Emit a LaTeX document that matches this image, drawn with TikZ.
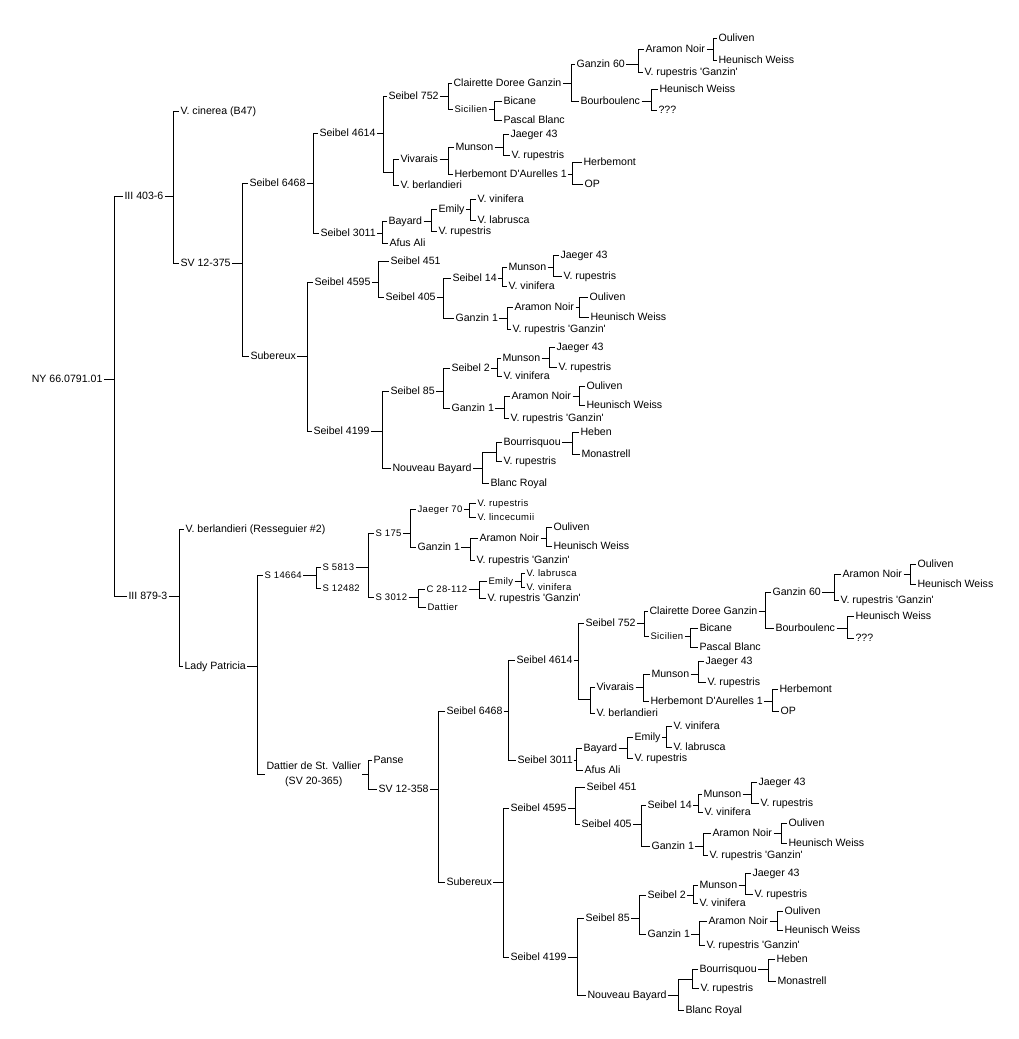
\documentclass[tikz,border=0pt]{standalone}
\usepackage{fontspec}
\setmainfont{Liberation Sans}
\newfontfamily\smallfam{Liberation Sans}[LetterSpace=4]
\newcommand\mf{\fontsize{10.6pt}{15pt}\selectfont}
\newcommand\smf{\smallfam\fontsize{9.5pt}{11pt}\selectfont}
\newcommand\q{\textquotesingle}
\newcommand\pedi[4]{%
  \coordinate (bb) at (#2,0);
  \draw (#3.west) -- (#3.west -| bb) -- (#4.west -| bb) -- (#4.west);
  \draw (#1.east) -- (#1.east -| bb);
}
\tikzset{
  lbl/.style={font=\mf, anchor=west, inner sep=1pt, text height=7.6pt, text depth=0pt},
  sml/.style={font=\smf, anchor=west, inner sep=1pt, text height=6.8pt, text depth=0pt},
  junc/.style={inner sep=0pt, minimum size=0pt},
  twol/.style={font=\mf, anchor=west, inner sep=1pt, align=center},
}
\begin{document}
\begin{tikzpicture}[x=1pt, y=-1pt, line width=1pt, line join=miter]
\fill[white] (0,0) rectangle (1019,1039);
\useasboundingbox (0,0) rectangle (1019,1039);
% ---------- root ----------
\node[lbl, anchor=east] (root) at (104,379) {NY 66.0791.01};
\node[lbl] (A) at (123,196) {III 403-6};
\node[lbl] (B) at (127,596) {III 879-3};
\pedi{root}{114}{A}{B}
% ---------- upper half ----------
\node[lbl] (A1) at (179,111) {V. cinerea (B47)};
\node[lbl] (A2) at (179,263) {SV 12-375};
\pedi{A}{173}{A1}{A2}
\node[lbl] (A21) at (248,183) {Seibel 6468};
\node[lbl] (A22) at (249,356) {Subereux};
\pedi{A2}{242}{A21}{A22}
\node[lbl] (a1) at (318,133) {Seibel 4614};
\node[lbl] (a2) at (319,233) {Seibel 3011};
\pedi{A21}{313}{a1}{a2}
\node[lbl] (a11) at (387,96) {Seibel 752};
\node[junc] (u1) at (393,172) {};
\pedi{a1}{383}{a11}{u1}
\node[lbl] (a12) at (399,159) {Vivarais};
\node[lbl] (a13) at (399,185) {V. berlandieri};
\pedi{u1}{393}{a12}{a13}
\node[lbl] (a111) at (452,83) {Clairette Doree Ganzin};
\node[sml] (a112) at (453,109) {Sicilien};
\pedi{a11}{448}{a111}{a112}
\node[lbl] (a1111) at (575,64) {Ganzin 60};
\node[lbl] (a1112) at (579,101) {Bourboulenc};
\pedi{a111}{571}{a1111}{a1112}
\node[lbl] (b1) at (644,49) {Aramon Noir};
\node[lbl] (b2) at (643,72) {V. rupestris \q Ganzin\q};
\pedi{a1111}{638}{b1}{b2}
\node[lbl] (b11) at (717,38) {Ouliven};
\node[lbl] (b12) at (717,60) {Heunisch Weiss};
\pedi{b1}{713}{b11}{b12}
\node[lbl] (b3) at (658,89) {Heunisch Weiss};
\node[lbl] (b4) at (657,110) {???};
\pedi{a1112}{651}{b3}{b4}
\node[lbl] (b5) at (502,101) {Bicane};
\node[lbl] (b6) at (502,120) {Pascal Blanc};
\pedi{a112}{494}{b5}{b6}
\node[lbl] (c1) at (454,147) {Munson};
\node[lbl] (c2) at (453,174) {Herbemont D\q Aurelles 1};
\pedi{a12}{448}{c1}{c2}
\node[lbl] (c3) at (509,134) {Jaeger 43};
\node[lbl] (c4) at (510,155) {V. rupestris};
\pedi{c1}{503}{c3}{c4}
\node[lbl] (c5) at (582,162) {Herbemont};
\node[lbl] (c6) at (583,184) {OP};
\pedi{c2}{572}{c5}{c6}
\node[lbl] (d1) at (387,221) {Bayard};
\node[lbl] (d2) at (388,243) {Afus Ali};
\pedi{a2}{382}{d1}{d2}
\node[lbl] (d3) at (437,209) {Emily};
\node[lbl] (d4) at (437,231) {V. rupestris};
\pedi{d1}{431}{d3}{d4}
\node[lbl] (d5) at (476,199) {V. vinifera};
\node[lbl] (d6) at (476,220) {V. labrusca};
\pedi{d3}{470}{d5}{d6}
\node[lbl] (e1) at (313,282) {Seibel 4595};
\node[lbl] (e2) at (312,431) {Seibel 4199};
\pedi{A22}{307}{e1}{e2}
\node[lbl] (e3) at (389,261) {Seibel 451};
\node[lbl] (e4) at (384,297) {Seibel 405};
\pedi{e1}{378}{e3}{e4}
\node[lbl] (e5) at (451,278) {Seibel 14};
\node[lbl] (e6) at (454,318) {Ganzin 1};
\pedi{e4}{443}{e5}{e6}
\node[lbl] (e7) at (507,267) {Munson};
\node[lbl] (e8) at (507,286) {V. vinifera};
\pedi{e5}{502}{e7}{e8}
\node[lbl] (e9) at (559,255) {Jaeger 43};
\node[lbl] (e10) at (562,276) {V. rupestris};
\pedi{e7}{553}{e9}{e10}
\node[lbl] (e11) at (513,307) {Aramon Noir};
\node[lbl] (e12) at (511,329) {V. rupestris \q Ganzin\q};
\pedi{e6}{507}{e11}{e12}
\node[lbl] (e13) at (588,297) {Ouliven};
\node[lbl] (e14) at (589,317) {Heunisch Weiss};
\pedi{e11}{579}{e13}{e14}
\node[lbl] (f1) at (389,391) {Seibel 85};
\node[lbl] (f2) at (391,468) {Nouveau Bayard};
\pedi{e2}{382}{f1}{f2}
\node[lbl] (f3) at (450,368) {Seibel 2};
\node[lbl] (f4) at (450,408) {Ganzin 1};
\pedi{f1}{443}{f3}{f4}
\node[lbl] (f5) at (501,358) {Munson};
\node[lbl] (f6) at (502,376) {V. vinifera};
\pedi{f3}{497}{f5}{f6}
\node[lbl] (f7) at (555,347) {Jaeger 43};
\node[lbl] (f8) at (557,367) {V. rupestris};
\pedi{f5}{549}{f7}{f8}
\node[lbl] (f9) at (510,396) {Aramon Noir};
\node[lbl] (f10) at (509,418) {V. rupestris \q Ganzin\q};
\pedi{f4}{504}{f9}{f10}
\node[lbl] (f11) at (585,386) {Ouliven};
\node[lbl] (f12) at (585,405) {Heunisch Weiss};
\pedi{f9}{579}{f11}{f12}
\node[junc] (u2) at (496,452) {};
\node[lbl] (f13) at (489,483) {Blanc Royal};
\pedi{f2}{482}{u2}{f13}
\node[lbl] (f14) at (502,442) {Bourrisquou};
\node[lbl] (f15) at (502,461) {V. rupestris};
\pedi{u2}{496}{f14}{f15}
\node[lbl] (f16) at (579,432) {Heben};
\node[lbl] (f17) at (580,454) {Monastrell};
\pedi{f14}{572}{f16}{f17}
% ---------- lower half ----------
\node[lbl] (B1) at (184,529) {V. berlandieri (Resseguier \#2)};
\node[lbl] (B2) at (183,666) {Lady Patricia};
\pedi{B}{179}{B1}{B2}
\node[sml] (g1) at (263,575) {S 14664};
\node[twol] (g2) at (265,774) {Dattier de St. Vallier\\(SV 20-365)};
\pedi{B2}{257}{g1}{g2}
\node[sml] (g3) at (321,567) {S 5813};
\node[sml] (g4) at (321,588) {S 12482};
\pedi{g1}{316}{g3}{g4}
\node[sml] (g5) at (374,533) {S 175};
\node[sml] (g6) at (374,597) {S 3012};
\pedi{g3}{368}{g5}{g6}
\node[sml] (g7) at (416,509) {Jaeger 70};
\node[lbl] (g8) at (416,547) {Ganzin 1};
\pedi{g5}{410}{g7}{g8}
\node[sml] (g9) at (476,503) {V. rupestris};
\node[sml] (g10) at (476,517) {V. lincecumii};
\pedi{g7}{469}{g9}{g10}
\node[lbl] (g11) at (478,538) {Aramon Noir};
\node[lbl] (g12) at (475,560) {V. rupestris \q Ganzin\q};
\pedi{g8}{470}{g11}{g12}
\node[lbl] (g13) at (552,527) {Ouliven};
\node[lbl] (g14) at (552,546) {Heunisch Weiss};
\pedi{g11}{546}{g13}{g14}
\node[sml] (g15) at (425,589) {C 28-112};
\node[sml] (g16) at (426,607) {Dattier};
\pedi{g6}{418}{g15}{g16}
\node[sml] (g17) at (487,581) {Emily};
\node[lbl] (g18) at (486,598) {V. rupestris \q Ganzin\q};
\pedi{g15}{479}{g17}{g18}
\node[sml] (g19) at (525,573) {V. labrusca};
\node[sml] (g20) at (525,587) {V. vinifera};
\pedi{g17}{521}{g19}{g20}
\node[lbl] (h1) at (372,760) {Panse};
\node[lbl] (h2) at (377,789) {SV 12-358};
\pedi{g2}{368}{h1}{h2}
\node[lbl] (h3) at (445,711) {Seibel 6468};
\node[lbl] (h4) at (445,882) {Subereux};
\pedi{h2}{438}{h3}{h4}
\node[lbl] (h5) at (515,660) {Seibel 4614};
\node[lbl] (h6) at (516,760) {Seibel 3011};
\pedi{h3}{508}{h5}{h6}
\node[lbl] (h7) at (584,623) {Seibel 752};
\node[junc] (u3) at (590,699) {};
\pedi{h5}{578}{h7}{u3}
\node[lbl] (h8) at (595,687) {Vivarais};
\node[lbl] (h9) at (595,713) {V. berlandieri};
\pedi{u3}{590}{h8}{h9}
\node[lbl] (h10) at (648,611) {Clairette Doree Ganzin};
\node[sml] (h11) at (649,636) {Sicilien};
\pedi{h7}{644}{h10}{h11}
\node[lbl] (h12) at (771,592) {Ganzin 60};
\node[lbl] (h13) at (774,628) {Bourboulenc};
\pedi{h10}{765}{h12}{h13}
\node[lbl] (h14) at (841,574) {Aramon Noir};
\node[lbl] (h15) at (839,600) {V. rupestris \q Ganzin\q};
\pedi{h12}{834}{h14}{h15}
\node[lbl] (h16) at (916,564) {Ouliven};
\node[lbl] (h17) at (916,584) {Heunisch Weiss};
\pedi{h14}{910}{h16}{h17}
\node[lbl] (h18) at (854,616) {Heunisch Weiss};
\node[lbl] (h19) at (854,638) {???};
\pedi{h13}{847}{h18}{h19}
\node[lbl] (h20) at (698,628) {Bicane};
\node[lbl] (h21) at (698,647) {Pascal Blanc};
\pedi{h11}{690}{h20}{h21}
\node[lbl] (h22) at (650,674) {Munson};
\node[lbl] (h23) at (649,701) {Herbemont D\q Aurelles 1};
\pedi{h8}{643}{h22}{h23}
\node[lbl] (h24) at (704,661) {Jaeger 43};
\node[lbl] (h25) at (706,682) {V. rupestris};
\pedi{h22}{698}{h24}{h25}
\node[lbl] (h26) at (778,689) {Herbemont};
\node[lbl] (h27) at (779,711) {OP};
\pedi{h23}{772}{h26}{h27}
\node[lbl] (i1) at (582,748) {Bayard};
\node[lbl] (i2) at (583,770) {Afus Ali};
\pedi{h6}{576}{i1}{i2}
\node[lbl] (i3) at (633,737) {Emily};
\node[lbl] (i4) at (633,758) {V. rupestris};
\pedi{i1}{627}{i3}{i4}
\node[lbl] (i5) at (672,726) {V. vinifera};
\node[lbl] (i6) at (672,747) {V. labrusca};
\pedi{i3}{666}{i5}{i6}
\node[lbl] (j1) at (509,808) {Seibel 4595};
\node[lbl] (j2) at (509,957) {Seibel 4199};
\pedi{h4}{503}{j1}{j2}
\node[lbl] (j3) at (585,787) {Seibel 451};
\node[lbl] (j4) at (580,824) {Seibel 405};
\pedi{j1}{575}{j3}{j4}
\node[lbl] (j5) at (646,805) {Seibel 14};
\node[lbl] (j6) at (650,846) {Ganzin 1};
\pedi{j4}{641}{j5}{j6}
\node[lbl] (j7) at (702,794) {Munson};
\node[lbl] (j8) at (703,812) {V. vinifera};
\pedi{j5}{698}{j7}{j8}
\node[lbl] (j9) at (757,782) {Jaeger 43};
\node[lbl] (j10) at (759,803) {V. rupestris};
\pedi{j7}{751}{j9}{j10}
\node[lbl] (j11) at (711,833) {Aramon Noir};
\node[lbl] (j12) at (708,855) {V. rupestris \q Ganzin\q};
\pedi{j6}{703}{j11}{j12}
\node[lbl] (j13) at (787,823) {Ouliven};
\node[lbl] (j14) at (787,843) {Heunisch Weiss};
\pedi{j11}{781}{j13}{j14}
\node[lbl] (k1) at (584,918) {Seibel 85};
\node[lbl] (k2) at (586,995) {Nouveau Bayard};
\pedi{j2}{577}{k1}{k2}
\node[lbl] (k3) at (646,895) {Seibel 2};
\node[lbl] (k4) at (646,934) {Ganzin 1};
\pedi{k1}{639}{k3}{k4}
\node[lbl] (k5) at (698,885) {Munson};
\node[lbl] (k6) at (698,903) {V. vinifera};
\pedi{k3}{693}{k5}{k6}
\node[lbl] (k7) at (751,873) {Jaeger 43};
\node[lbl] (k8) at (753,894) {V. rupestris};
\pedi{k5}{745}{k7}{k8}
\node[lbl] (k9) at (707,921) {Aramon Noir};
\node[lbl] (k10) at (705,945) {V. rupestris \q Ganzin\q};
\pedi{k4}{699}{k9}{k10}
\node[lbl] (k11) at (783,911) {Ouliven};
\node[lbl] (k12) at (783,930) {Heunisch Weiss};
\pedi{k9}{777}{k11}{k12}
\node[junc] (u4) at (692,979) {};
\node[lbl] (k13) at (684,1010) {Blanc Royal};
\pedi{k2}{678}{u4}{k13}
\node[lbl] (k14) at (698,969) {Bourrisquou};
\node[lbl] (k15) at (699,988) {V. rupestris};
\pedi{u4}{692}{k14}{k15}
\node[lbl] (k16) at (775,959) {Heben};
\node[lbl] (k17) at (776,981) {Monastrell};
\pedi{k14}{768}{k16}{k17}
\end{tikzpicture}
\end{document}
